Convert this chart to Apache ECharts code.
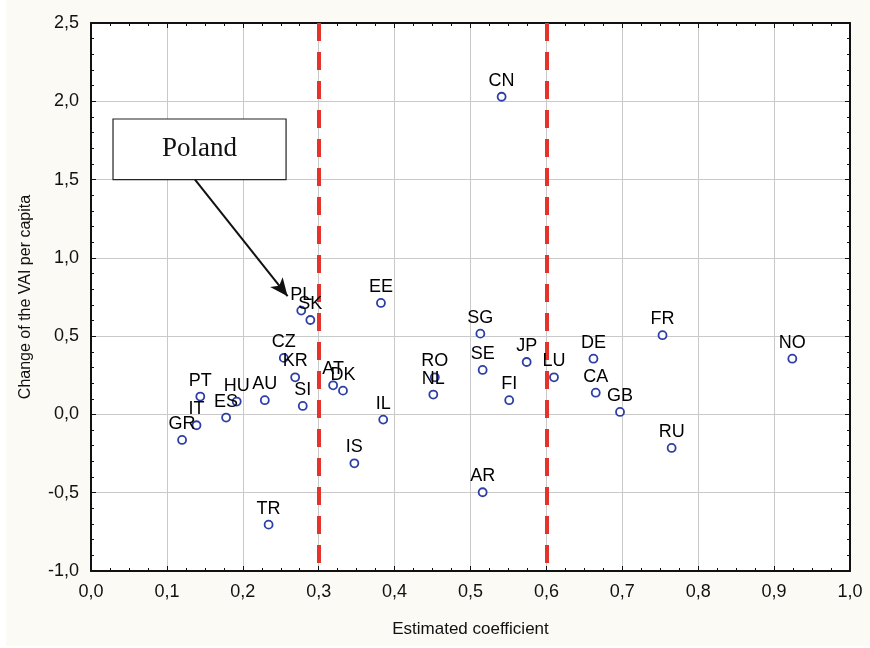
<!DOCTYPE html>
<html>
<head>
<meta charset="utf-8">
<script src="https://cdn.jsdelivr.net/npm/echarts@6/dist/echarts.min.js"></script>
<style>
  html, body { margin: 0; padding: 0; background: #fff; }
  #main { width: 870px; height: 648px; }
</style>
</head>
<body>
<div id="main"></div>
<script>
// country codes with estimated coefficient (x) and change of VAI per capita (y)
var countries = ['CN', 'PL', 'SK', 'EE', 'SG', 'FR', 'NO', 'DE', 'JP', 'CZ', 'SE', 'KR', 'RO', 'LU', 'AT', 'DK',
                 'CA', 'NL', 'PT', 'AU', 'FI', 'HU', 'SI', 'GB', 'ES', 'IL', 'IT', 'GR', 'RU', 'IS', 'AR', 'TR'];
var coefficient = [0.541, 0.277, 0.289, 0.382, 0.513, 0.753, 0.924, 0.662, 0.574, 0.254, 0.516, 0.269, 0.453, 0.610, 0.319, 0.332,
                   0.665, 0.451, 0.144, 0.229, 0.551, 0.192, 0.279, 0.697, 0.178, 0.385, 0.139, 0.120, 0.765, 0.347, 0.516, 0.234];
var vaiChange = [2.029, 0.663, 0.603, 0.712, 0.516, 0.506, 0.356, 0.356, 0.335, 0.361, 0.284, 0.237, 0.237, 0.237, 0.186, 0.152,
                 0.139, 0.127, 0.114, 0.091, 0.091, 0.082, 0.054, 0.016, -0.020, -0.033, -0.069, -0.163, -0.214, -0.312, -0.497, -0.704];

// dashed threshold lines
var thresholds = [0.3, 0.6];

// axis ranges
var xRange = [0, 1, 0.1];
var yRange = [-1, 2.5, 0.5];

// "Poland" callout, in data units
var calloutText = 'Poland';
var calloutBox = [[0.029, 1.887], [0.257, 1.5]];
var calloutArrow = [[0.137, 1.5], [0.259, 0.755]];

var chart = echarts.init(document.getElementById('main'));

var font = 'Liberation Sans, Arial, sans-serif';
var fmt = function (v) { return v.toFixed(1).replace('.', ','); };

var points = countries.map(function (c, i) {
    return { name: c, value: [coefficient[i], vaiChange[i]] };
});

function baseAxis(extra) {
    return Object.assign({
        type: 'value',
        axisLine: { show: true, onZero: false, lineStyle: { color: '#111', width: 2 } },
        axisTick: { show: true, inside: true, length: 5, lineStyle: { color: '#111', width: 1 } },
        splitLine: { show: false }
    }, extra);
}

var option = {
    backgroundColor: '#ffffff',
    animation: false,
    graphic: [{
        type: 'rect', z: -10, silent: true,
        shape: { x: 6, y: 0, width: 864, height: 646 },
        style: { fill: '#fbfaf5' }
    }],
    grid: {
        left: 91, right: 20, top: 23, bottom: 77,
        show: true, backgroundColor: '#ffffff', borderWidth: 0
    },
    xAxis: [
        baseAxis({
            position: 'bottom',
            min: xRange[0], max: xRange[1], interval: xRange[2],
            minorTick: { show: true, splitNumber: 4, length: 3, lineStyle: { color: '#111' } },
            axisLabel: { formatter: fmt, color: '#111', fontSize: 18, fontFamily: font, margin: 12 },
            splitLine: { show: true, lineStyle: { color: '#c9c9c9', width: 1 } },
            name: 'Estimated coefficient',
            nameLocation: 'middle',
            nameGap: 50,
            nameTextStyle: { color: '#111', fontSize: 17, fontFamily: font }
        }),
        baseAxis({
            position: 'top',
            min: xRange[0], max: xRange[1], interval: xRange[2],
            minorTick: { show: true, splitNumber: 4, length: 3, lineStyle: { color: '#111' } },
            axisLabel: { show: false }
        })
    ],
    yAxis: [
        baseAxis({
            position: 'left',
            min: yRange[0], max: yRange[1], interval: yRange[2],
            minorTick: { show: true, splitNumber: 5, length: 3, lineStyle: { color: '#111' } },
            axisLabel: { formatter: fmt, color: '#111', fontSize: 18, fontFamily: font, margin: 12 },
            splitLine: { show: true, lineStyle: { color: '#c9c9c9', width: 1 } },
            name: 'Change of the VAI per capita',
            nameLocation: 'middle',
            nameGap: 57,
            nameTextStyle: { color: '#111', fontSize: 16, fontFamily: font }
        }),
        baseAxis({
            position: 'right',
            min: yRange[0], max: yRange[1], interval: yRange[2],
            minorTick: { show: true, splitNumber: 5, length: 3, lineStyle: { color: '#111' } },
            axisLabel: { show: false }
        })
    ],
    series: [
        {
            type: 'scatter',
            xAxisIndex: 0,
            yAxisIndex: 0,
            data: points,
            symbol: 'circle',
            symbolSize: 8,
            itemStyle: { color: '#ffffff', borderColor: '#2d3fa6', borderWidth: 1.8, opacity: 1 },
            label: {
                show: true,
                position: 'top',
                distance: 2,
                formatter: '{b}',
                color: '#000',
                fontSize: 18,
                fontFamily: font,
                textBorderWidth: 0
            },
            z: 5,
            markLine: {
                silent: true,
                symbol: ['none', 'none'],
                label: { show: false },
                lineStyle: { color: '#e5322a', width: 4, type: [18, 11] },
                // drawn from the top edge down, so the dash pattern starts at the top
                data: thresholds.map(function (t) {
                    return [{ coord: [t, yRange[1]] }, { coord: [t, yRange[0]] }];
                })
            },
            markArea: {
                silent: true,
                itemStyle: { color: '#ffffff', borderColor: '#222', borderWidth: 1.2 },
                label: {
                    show: true, position: 'inside',
                    color: '#111', fontSize: 27, fontFamily: 'Liberation Serif, Times New Roman, serif'
                },
                data: [[
                    { name: calloutText, coord: calloutBox[0] },
                    { coord: calloutBox[1] }
                ]]
            }
        },
        {
            // arrow from the callout to the Polish point
            type: 'line',
            data: [],
            markLine: {
                silent: true,
                symbol: ['none', 'arrow'],
                symbolSize: [12, 18],
                label: { show: false },
                lineStyle: { color: '#111', width: 2, type: 'solid' },
                data: [[
                    { coord: calloutArrow[0] },
                    { coord: calloutArrow[1] }
                ]]
            }
        }
    ]
};

chart.setOption(option);
</script>
</body>
</html>
